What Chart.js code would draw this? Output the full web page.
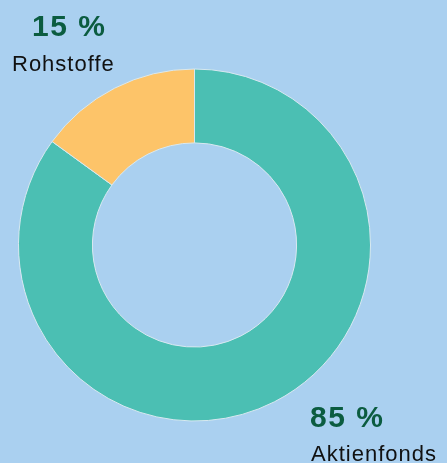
<!DOCTYPE html>
<html>
<head>
<meta charset="utf-8">
<script src="https://cdn.jsdelivr.net/npm/chart.js@4"></script>
<style>
  html, body { margin: 0; padding: 0; background: #aad0f0; }
  #wrap { width: 447px; height: 463px; position: relative; }
</style>
</head>
<body>
<div id="wrap"><canvas id="donut"></canvas></div>
<script>
const categories = ['Aktienfonds', 'Rohstoffe'];
const shares = [85, 15];
const percentLabels = ['85 %', '15 %'];
const colours = ['#4bbfb3', '#fdc469'];

// Beschriftungen (Prozent + Name) neben dem Ring
const labelPlugin = {
  id: 'sliceLabels',
  afterDraw(chart) {
    const ctx = chart.ctx;
    const spots = [
      { x: 310, y: 427, x2: 311, y2: 461 },  // Aktienfonds
      { x: 32, y: 36, x2: 12, y2: 71 }       // Rohstoffe
    ];
    ctx.save();
    ctx.textAlign = 'left';
    ctx.textBaseline = 'alphabetic';
    categories.forEach((name, i) => {
      const s = spots[i];
      ctx.fillStyle = '#0b5c40';
      ctx.font = 'bold 30px "Liberation Sans", Arial, sans-serif';
      ctx.letterSpacing = '1.5px';
      ctx.fillText(percentLabels[i], s.x, s.y);
      ctx.fillStyle = '#111111';
      ctx.font = '22px "Liberation Sans", Arial, sans-serif';
      ctx.letterSpacing = '1px';
      ctx.fillText(name, s.x2, s.y2);
    });
    ctx.restore();
  }
};

new Chart(
  document.getElementById('donut'),
  {
    type: 'doughnut',
    data: {
      labels: categories,
      datasets: [{
        data: shares,
        backgroundColor: colours,
        borderColor: '#d8e8f0',
        borderWidth: 1
      }]
    },
    options: {
      responsive: true,
      maintainAspectRatio: false,
      animation: false,
      cutout: '58%',
      layout: { padding: { left: 18, right: 76, top: 68, bottom: 41 } },
      plugins: {
        legend: { display: false },
        tooltip: { enabled: false }
      }
    },
    plugins: [labelPlugin]
  }
);
</script>
</body>
</html>
